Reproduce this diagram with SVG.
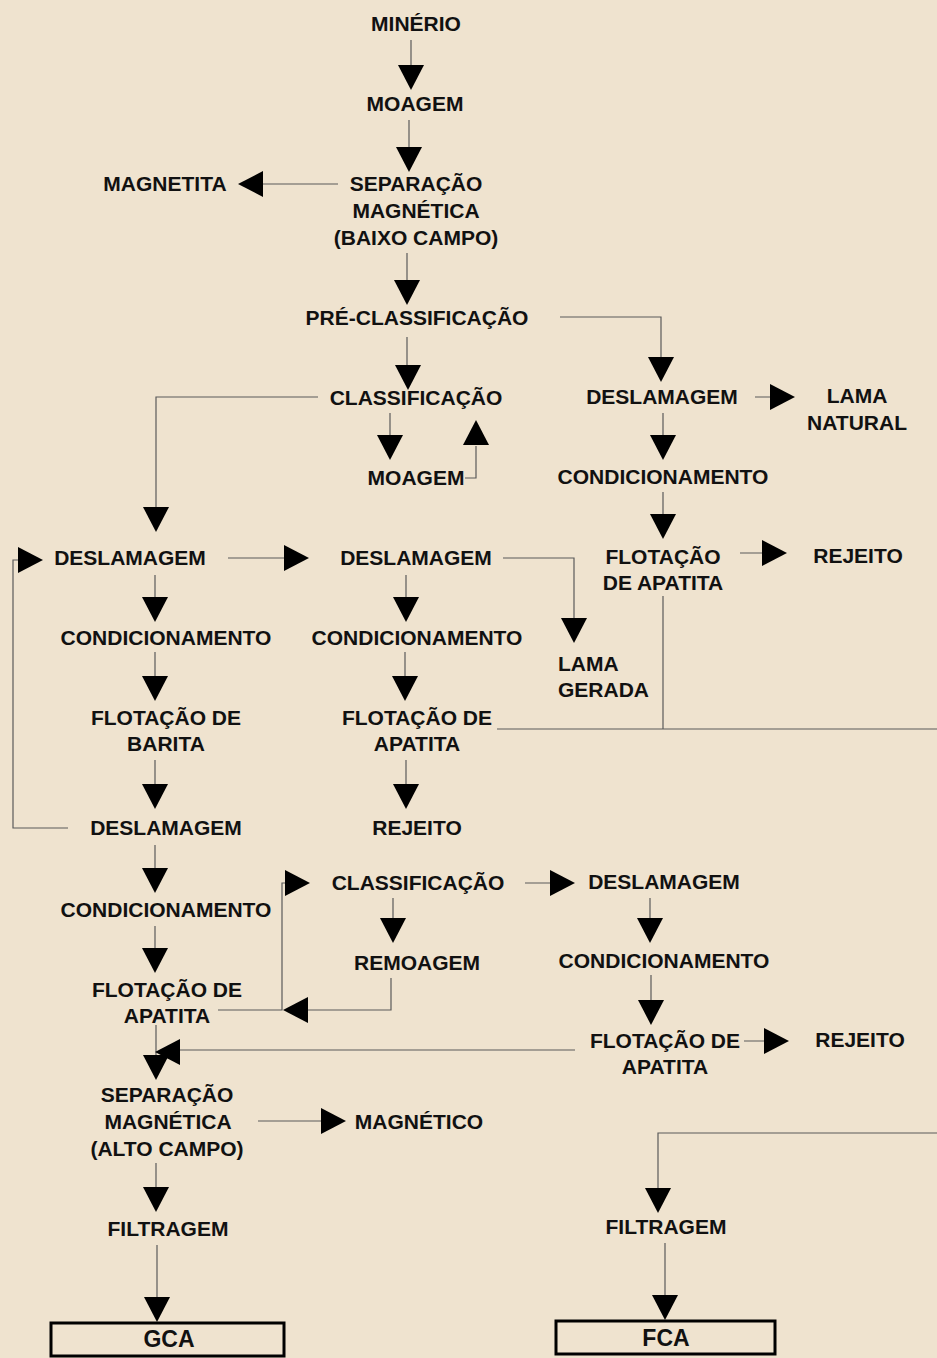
<svg xmlns="http://www.w3.org/2000/svg" xmlns:xlink="http://www.w3.org/1999/xlink" width="937" height="1358" viewBox="0 0 937 1358">
<style>
text{font-family:"Liberation Sans",Arial,sans-serif;font-weight:bold;font-size:21px;fill:#111;text-anchor:middle}
.l{text-anchor:start}
.big{font-size:23px}
.ln{fill:none;stroke:#5a5a5a;stroke-width:1.2}
.hd{fill:#000}
.box{fill:none;stroke:#000;stroke-width:3}
</style>
<defs>
<polygon id="h" class="hd" points="-13,-25 13,-25 0,0"/>
</defs>
<rect width="937" height="1358" fill="#efe3cf"/>
<g id="connectors">
<path class="ln" d="M411 40V66M409 120V148M407 253V281M407 337V366M390 413V436M465 478H476V446M338 184H263M560 317H661V358M318 397H156V508M755 397H771M663 413V436M663 492V515M740 553H763M663 596V729M497 729H937M228 558H285M503 558H574V619M155 575V598M406 575V598M155 652V677M405 652V677M155 760V785M406 760V785M68 828H13V560H19M155 845V869M155 926V949M218 1010H282V883H286M391 978V1010H308M393 898V919M525 883H551M650 898V919M651 975V1001M744 1041H765M575 1050H180M156 1025V1056M258 1121H322M156 1163V1188M157 1245V1298M665 1243V1296M937 1133H658V1189"/>
<use href="#h" transform="translate(411,90)"/>
<use href="#h" transform="translate(409,172)"/>
<use href="#h" transform="translate(407,305)"/>
<use href="#h" transform="translate(408,390)"/>
<use href="#h" transform="translate(390,460)"/>
<use href="#h" transform="translate(661,382)"/>
<use href="#h" transform="translate(156,532)"/>
<use href="#h" transform="translate(663,460)"/>
<use href="#h" transform="translate(663,539)"/>
<use href="#h" transform="translate(155,622)"/>
<use href="#h" transform="translate(406,622)"/>
<use href="#h" transform="translate(155,701)"/>
<use href="#h" transform="translate(405,701)"/>
<use href="#h" transform="translate(155,809)"/>
<use href="#h" transform="translate(406,809)"/>
<use href="#h" transform="translate(574,643)"/>
<use href="#h" transform="translate(155,893)"/>
<use href="#h" transform="translate(155,973)"/>
<use href="#h" transform="translate(393,943)"/>
<use href="#h" transform="translate(650,943)"/>
<use href="#h" transform="translate(651,1025)"/>
<use href="#h" transform="translate(156,1080)"/>
<use href="#h" transform="translate(156,1212)"/>
<use href="#h" transform="translate(157,1322)"/>
<use href="#h" transform="translate(665,1320)"/>
<use href="#h" transform="translate(658,1213)"/>
<use href="#h" transform="translate(476,420) rotate(180)"/>
<use href="#h" transform="translate(795,397) rotate(-90)"/>
<use href="#h" transform="translate(787,553) rotate(-90)"/>
<use href="#h" transform="translate(309,558) rotate(-90)"/>
<use href="#h" transform="translate(43,560) rotate(-90)"/>
<use href="#h" transform="translate(346,1121) rotate(-90)"/>
<use href="#h" transform="translate(310,883) rotate(-90)"/>
<use href="#h" transform="translate(575,883) rotate(-90)"/>
<use href="#h" transform="translate(789,1041) rotate(-90)"/>
<use href="#h" transform="translate(238,184) rotate(90)"/>
<use href="#h" transform="translate(283,1010) rotate(90)"/>
<use href="#h" transform="translate(155,1052) rotate(90)"/>
</g>
<g id="n-minerio"><text x="416" y="31">MINÉRIO</text></g>
<g id="n-moagem1"><text x="415" y="111">MOAGEM</text></g>
<g id="n-sep-baixo"><text x="416" y="191">SEPARAÇÃO</text><text x="416" y="218">MAGNÉTICA</text><text x="416" y="245">(BAIXO CAMPO)</text></g>
<g id="n-magnetita"><text x="165" y="191">MAGNETITA</text></g>
<g id="n-preclass"><text x="417" y="325">PRÉ-CLASSIFICAÇÃO</text></g>
<g id="n-class1"><text x="416" y="405">CLASSIFICAÇÃO</text></g>
<g id="n-moagem2"><text x="416" y="485">MOAGEM</text></g>
<g id="n-deslam-r1"><text x="662" y="404">DESLAMAGEM</text></g>
<g id="n-lama-natural"><text x="857" y="403">LAMA</text><text x="857" y="430">NATURAL</text></g>
<g id="n-cond-r1"><text x="663" y="484">CONDICIONAMENTO</text></g>
<g id="n-flot-r1"><text x="663" y="564">FLOTAÇÃO</text><text x="663" y="590">DE APATITA</text></g>
<g id="n-rejeito1"><text x="858" y="563">REJEITO</text></g>
<g id="n-deslam-l1"><text x="130" y="565">DESLAMAGEM</text></g>
<g id="n-deslam-m1"><text x="416" y="565">DESLAMAGEM</text></g>
<g id="n-lama-gerada"><text class="l" x="558" y="671">LAMA</text><text class="l" x="558" y="697">GERADA</text></g>
<g id="n-cond-l1"><text x="166" y="645">CONDICIONAMENTO</text></g>
<g id="n-cond-m1"><text x="417" y="645">CONDICIONAMENTO</text></g>
<g id="n-flot-barita"><text x="166" y="725">FLOTAÇÃO DE</text><text x="166" y="751">BARITA</text></g>
<g id="n-flot-m1"><text x="417" y="725">FLOTAÇÃO DE</text><text x="417" y="751">APATITA</text></g>
<g id="n-deslam-l2"><text x="166" y="835">DESLAMAGEM</text></g>
<g id="n-rejeito2"><text x="417" y="835">REJEITO</text></g>
<g id="n-cond-l2"><text x="166" y="917">CONDICIONAMENTO</text></g>
<g id="n-class2"><text x="418" y="890">CLASSIFICAÇÃO</text></g>
<g id="n-deslam-r2"><text x="664" y="889">DESLAMAGEM</text></g>
<g id="n-remoagem"><text x="417" y="970">REMOAGEM</text></g>
<g id="n-cond-r2"><text x="664" y="968">CONDICIONAMENTO</text></g>
<g id="n-flot-l2"><text x="167" y="997">FLOTAÇÃO DE</text><text x="167" y="1023">APATITA</text></g>
<g id="n-flot-r2"><text x="665" y="1048">FLOTAÇÃO DE</text><text x="665" y="1074">APATITA</text></g>
<g id="n-rejeito3"><text x="860" y="1047">REJEITO</text></g>
<g id="n-sep-alto"><text x="167" y="1102">SEPARAÇÃO</text><text x="168" y="1129">MAGNÉTICA</text><text x="167" y="1156">(ALTO CAMPO)</text></g>
<g id="n-magnetico"><text x="419" y="1129">MAGNÉTICO</text></g>
<g id="n-filt-l"><text x="168" y="1236">FILTRAGEM</text></g>
<g id="n-filt-r"><text x="666" y="1234">FILTRAGEM</text></g>
<g id="n-gca"><rect class="box" x="51" y="1323" width="233" height="33"/><text class="big" x="169" y="1347">GCA</text></g>
<g id="n-fca"><rect class="box" x="556" y="1321" width="219" height="33"/><text class="big" x="666" y="1346">FCA</text></g>
</svg>
